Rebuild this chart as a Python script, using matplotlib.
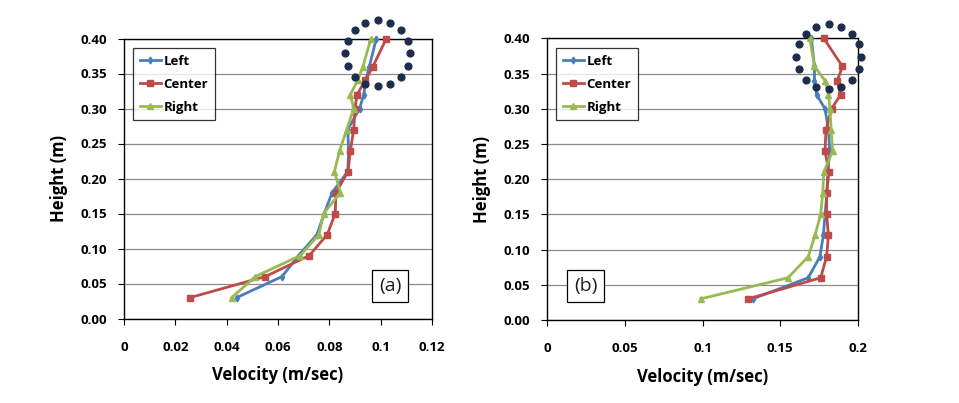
import numpy as np
import matplotlib.pyplot as plt

# heights (m)
height = [0.03, 0.06, 0.09, 0.12, 0.15, 0.18, 0.21, 0.24, 0.27, 0.30, 0.32, 0.34, 0.36, 0.40]

# (a) velocities (m/sec)
left_a = [0.044, 0.0616, 0.068, 0.0752, 0.078, 0.0811, 0.0872, 0.0875, 0.0872, 0.0918, 0.0934, 0.0942, 0.0956, 0.0983]
center_a = [0.0259, 0.0551, 0.0722, 0.0792, 0.0823, 0.0826, 0.0873, 0.0882, 0.0895, 0.0900, 0.0908, 0.094, 0.097, 0.1022]
right_a = [0.042, 0.0512, 0.0687, 0.0759, 0.0778, 0.0843, 0.082, 0.084, 0.0868, 0.0895, 0.0882, 0.091, 0.0931, 0.0962]

# (b) velocities (m/sec)
left_b = [0.1323, 0.168, 0.1755, 0.1777, 0.1788, 0.180, 0.1806, 0.1818, 0.181, 0.1788, 0.1734, 0.172, 0.172, 0.170]
center_b = [0.1294, 0.176, 0.1798, 0.181, 0.1798, 0.1798, 0.1813, 0.1788, 0.1794, 0.183, 0.1888, 0.1867, 0.190, 0.178]
right_b = [0.0988, 0.155, 0.168, 0.1723, 0.176, 0.1773, 0.178, 0.1837, 0.1827, 0.182, 0.181, 0.1788, 0.172, 0.169]

yticks = [0.00, 0.05, 0.10, 0.15, 0.20, 0.25, 0.30, 0.35, 0.40]
xticks_a = [0, 0.02, 0.04, 0.06, 0.08, 0.1, 0.12]
xticklabels_a = ['0', '0.02', '0.04', '0.06', '0.08', '0.1', '0.12']
xticks_b = [0, 0.05, 0.1, 0.15, 0.2]
xticklabels_b = ['0', '0.05', '0.1', '0.15', '0.2']

plt.rcParams['font.family'] = ['Open Sans', 'DejaVu Sans']

colors = {'Left': '#4a7ebb', 'Center': '#be4b48', 'Right': '#98b954'}
markers = {'Left': 'd', 'Center': 's', 'Right': '^'}
msizes = {'Left': 3.5, 'Center': 4.5, 'Right': 4.5}

fig = plt.figure(figsize=(9.59, 4.03), dpi=100)
W, H = 959, 403
ax_a = fig.add_axes([124 / W, (H - 318.5) / H, (432 - 124) / W, (318.5 - 38.5) / H])
ax_b = fig.add_axes([547 / W, (H - 320) / H, (858 - 547) / W, (320 - 38.3) / H])


def setup(ax, series, xticks, xticklabels, xmax, tag, circ):
    for name, vals in series:
        ax.plot(vals, height, color=colors[name], marker=markers[name], ms=msizes[name],
                lw=2, label=name, clip_on=False, zorder=3)
    ax.set_xlim(0, xmax)
    ax.set_ylim(0, 0.40)
    ax.set_yticks(yticks)
    ax.set_yticklabels(['%.2f' % t for t in yticks], fontweight='bold', fontsize=9.5)
    ax.set_xticks(xticks)
    ax.set_xticklabels(xticklabels, fontweight='bold', fontsize=9.5)
    ax.tick_params(axis='y', direction='out', length=4, width=0.8, pad=8)
    ax.tick_params(axis='x', direction='out', length=4, width=0.8, pad=12)
    ax.grid(axis='y', color='#8c8c8c', lw=0.9)
    ax.set_axisbelow(True)
    for s in ax.spines.values():
        s.set_color('black')
        s.set_linewidth(1.0)
    ax.set_ylabel('Height (m)', fontweight='bold', fontsize=12, labelpad=9)
    ax.set_xlabel('Velocity (m/sec)', fontweight='bold', fontsize=12, labelpad=9)
    leg = ax.legend(loc='upper left', bbox_to_anchor=(0.03, 0.965),
                    prop={'weight': 'bold', 'size': 9.5}, frameon=True, fancybox=False,
                    handlelength=1.6, handletextpad=0.2, labelspacing=0.75,
                    borderpad=0.5, borderaxespad=0)
    leg.get_frame().set_edgecolor('black')
    leg.get_frame().set_linewidth(0.9)
    ax.text(tag[1], tag[2], tag[0], transform=ax.transAxes, fontsize=14,
            ha='center', va='center', color='#1f1f1f',
            bbox=dict(boxstyle='square,pad=0.35', fc='white', ec='black', lw=0.9))
    # dotted circle highlight
    cx, cy, rx, ry = circ
    ang = np.linspace(0, 2 * np.pi, 16, endpoint=False)
    ax.scatter(cx + rx * np.cos(ang), cy + ry * np.sin(ang), s=24, color='#1c2e4a',
               zorder=5, clip_on=False)


setup(ax_a, [('Left', left_a), ('Center', center_a), ('Right', right_a)],
      xticks_a, xticklabels_a, 0.12, ('(a)', 0.865, 0.116), (0.0989, 0.379, 0.0127, 0.0471))
setup(ax_b, [('Left', left_b), ('Center', center_b), ('Right', right_b)],
      xticks_b, xticklabels_b, 0.2, ('(b)', 0.125, 0.12), (0.1813, 0.374, 0.0209, 0.046))

fig.savefig('out.png', dpi=100)
